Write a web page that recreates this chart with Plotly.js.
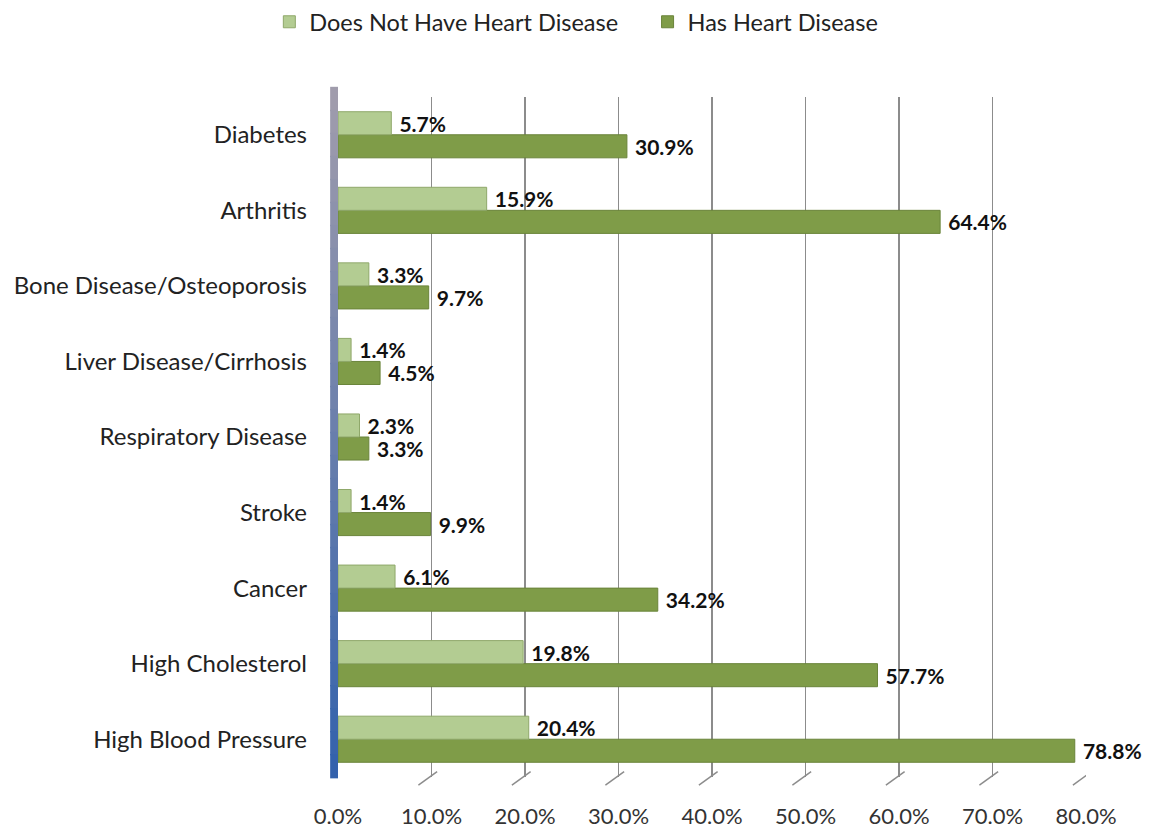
<!DOCTYPE html>
<html>
<head>
<meta charset="utf-8">
<script src="https://cdn.plot.ly/plotly-3.0.1.min.js"></script>
<style>html,body{margin:0;padding:0;background:#fff;}#chart{width:1171px;height:830px;}</style>
</head>
<body>
<div id="chart"></div>
<script>
var categories = ["High Blood Pressure", "High Cholesterol", "Cancer", "Stroke", "Respiratory Disease",
  "Liver Disease/Cirrhosis", "Bone Disease/Osteoporosis", "Arthritis", "Diabetes"];
var doesNotHave = [20.4, 19.8, 6.1, 1.4, 2.3, 1.4, 3.3, 15.9, 5.7];
var hasDisease = [78.8, 57.7, 34.2, 9.9, 3.3, 4.5, 9.7, 64.4, 30.9];
var tickVals = [0, 10, 20, 30, 40, 50, 60, 70, 80];
var tickText = ["0.0%", "10.0%", "20.0%", "30.0%", "40.0%", "50.0%", "60.0%", "70.0%", "80.0%"];

var FONT = "Lato, 'Open Sans', sans-serif";
var LABEL_FONT = {family: FONT, size: 21, color: "#111", weight: "bold"};

var traces = [
  {
    type: "bar", orientation: "h", name: "Has Heart Disease", legend: "legend2",
    y: categories, x: hasDisease,
    marker: {color: "#7f9c48", line: {color: "#6a843a", width: 1}},
    texttemplate: "\u00a0%{x:.1f}%", textposition: "outside", cliponaxis: false, constraintext: "none",
    textfont: LABEL_FONT,
    hoverinfo: "x+y"
  },
  {
    type: "bar", orientation: "h", name: "Does Not Have Heart Disease", legend: "legend",
    y: categories, x: doesNotHave,
    marker: {color: "#b3cc92", line: {color: "#8fa86a", width: 1}},
    texttemplate: "\u00a0%{x:.1f}%", textposition: "outside", cliponaxis: false, constraintext: "none",
    textfont: LABEL_FONT,
    hoverinfo: "x+y"
  }
];

// decorative left wall (gradient gray -> blue) drawn as stacked strips
var shapes = [];
var nSeg = 30;
function lerp(a, b, t) { return Math.round(a + (b - a) * t); }
for (var i = 0; i < nSeg; i++) {
  var t = i / (nSeg - 1);
  var c = "rgb(" + lerp(160, 52, t) + "," + lerp(156, 98, t) + "," + lerp(172, 172, t) + ")";
  var y1 = 1.015 - i * (1.015 / nSeg);
  var y0 = 1.015 - (i + 1) * (1.015 / nSeg) - 0.002;
  shapes.push({type: "rect", xref: "paper", yref: "paper", x0: -0.0105, x1: 0.0, y0: Math.max(y0, -0.008), y1: y1,
    fillcolor: c, line: {width: 0}, layer: "below"});
}
// small diagonal feet under grid lines
tickVals.forEach(function (v) {
  if (v === 0) return;
  shapes.push({type: "line", xref: "x", yref: "paper", x0: v + 0.6, y0: 0.008, x1: v - 1.4, y1: -0.012,
    line: {color: "#8c8c8c", width: 1.5}});
});

var legendBase = {orientation: "h", xref: "container", yref: "container", xanchor: "left",
  y: 1.0, yanchor: "top", font: {family: FONT, size: 23.5, color: "#222"}, itemwidth: 30};

var layout = {
  width: 1171, height: 830,
  margin: {l: 338, r: 85, t: 97, b: 53},
  paper_bgcolor: "#fff", plot_bgcolor: "#fff",
  barmode: "group", bargap: 0.39, bargroupgap: 0,
  font: {family: FONT, color: "#222"},
  showlegend: true,
  legend: Object.assign({}, legendBase, {x: 0.23}),
  legend2: Object.assign({}, legendBase, {x: 0.553}),
  xaxis: {range: [0, 80], tickvals: tickVals, ticktext: tickText, showgrid: true,
    gridcolor: "#8c8c8c", gridwidth: 1.5, zeroline: false, showline: false,
    tickfont: {family: FONT, size: 22, color: "#333"}, ticks: "", ticklabelstandoff: 24, fixedrange: true},
  yaxis: {type: "category", categoryorder: "array", categoryarray: categories, range: [-0.5, 8.5],
    showgrid: false, zeroline: false, showline: false, ticks: "",
    tickfont: {family: FONT, size: 24, color: "#222"}, ticklabelstandoff: 30, fixedrange: true},
  shapes: shapes
};

Plotly.newPlot("chart", traces, layout, {displayModeBar: false, staticPlot: true});
</script>
</body>
</html>
